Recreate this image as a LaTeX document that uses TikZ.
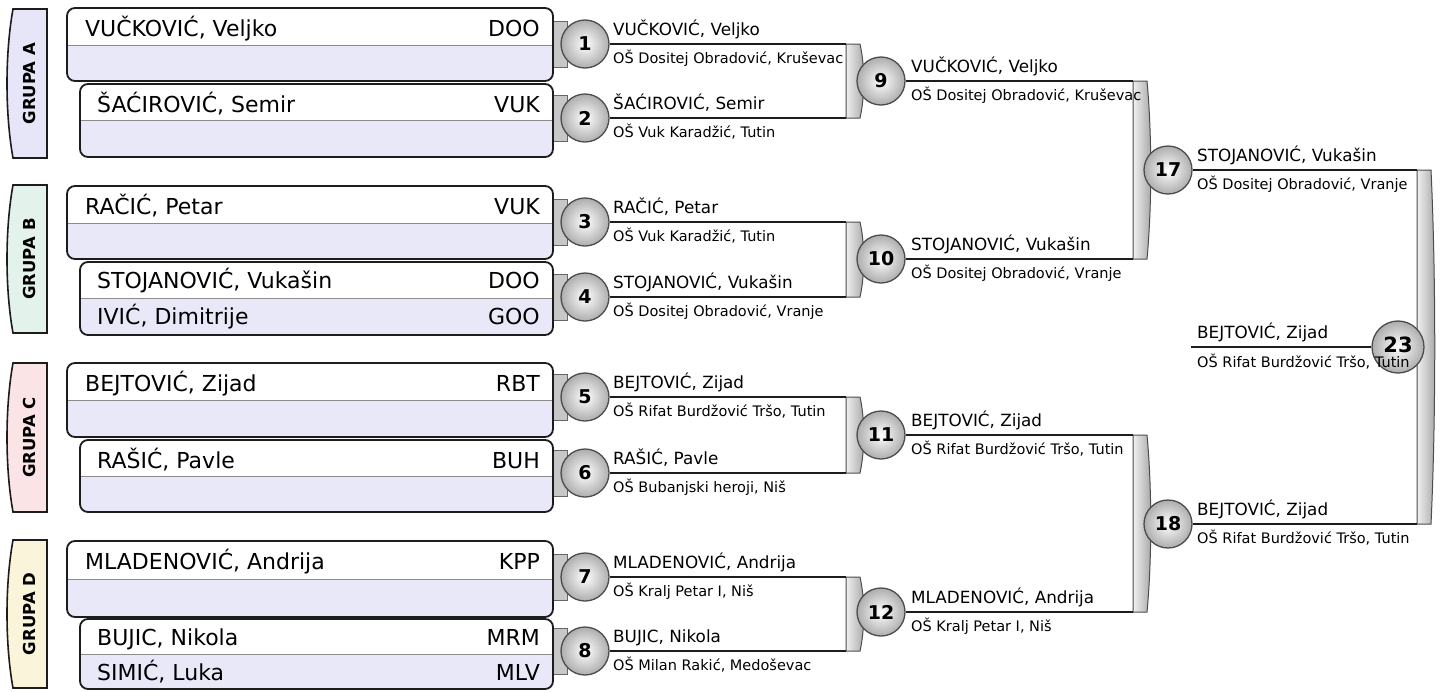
\documentclass[tikz,border=0pt]{standalone}
\usepackage{fontspec}
\setmainfont{DejaVu Sans}
\definecolor{lav}{HTML}{E9E8F8}
\definecolor{gA}{HTML}{E6E6F8}
\definecolor{gB}{HTML}{E4F2EC}
\definecolor{gC}{HTML}{FBE4E6}
\definecolor{gD}{HTML}{FAF4DA}
\definecolor{ink}{HTML}{1C1C1C}
\tikzset{
  grpline/.style={draw=ink, line width=1.6pt},
  grptext/.style={rotate=90, font=\bfseries\fontsize{16.5}{18}\selectfont, inner sep=0pt},
  boxline/.style={draw=ink, line width=1.8pt, rounded corners=8pt},
  tabst/.style={draw=black!60, line width=0.9pt, fill=black!22},
  barline/.style={draw=black!70, line width=1pt, left color=black!6, right color=black!35},
  wline/.style={draw=ink, line width=2pt},
  ball/.style={circle, minimum size=48pt, inner sep=0pt, draw=black!70, line width=1.3pt,
     inner color=white, outer color=black!32, font=\bfseries\fontsize{19}{20}\selectfont},
  nm/.style={font=\fontsize{22}{24}\selectfont, inner sep=0pt},
  wn/.style={font=\fontsize{16.8}{18}\selectfont, inner sep=0pt, anchor=base west},
  ws/.style={font=\fontsize{14.5}{16}\selectfont, inner sep=0pt, anchor=base west},
}
\newcommand{\grptab}[5]{%
  \draw[grpline, fill=#4] (13,#2) -- (47,#2) -- (47,#3) -- (13,#3)
     .. controls (5,{#3-0.3*(#3-#2)}) and (5,{#2+0.3*(#3-#2)}) .. (13,#2) -- cycle;
  \node[grptext] (#1) at (29,{(#2+#3)/2}) {#5};
}
\newcommand{\pbox}[4]{%
  \begin{scope}
    \clip[rounded corners=8pt] (#1,#2) rectangle (553,#4);
    \fill[white] (#1,#2) rectangle (553,#3);
    \fill[lav] (#1,#3) rectangle (553,#4);
  \end{scope}
  \draw[black!45, line width=0.8pt] (#1,#3) -- (553,#3);
  \draw[boxline] (#1,#2) rectangle (553,#4);
}
\newcommand{\rbar}[3]{%
  \draw[barline] (#1,#2) -- ({#1+14},#2)
    .. controls ({#1+19},{#2+0.3*(#3-#2)}) and ({#1+19},{#2+0.7*(#3-#2)}) .. ({#1+14},#3)
    -- (#1,#3) -- cycle;
}
\newcommand{\stab}[1]{\draw[tabst] (548,{#1-23}) rectangle (567,{#1+23});}
\begin{document}
\begin{tikzpicture}[x=1pt,y=-1pt]
\useasboundingbox[fill=white] (0,0) rectangle (1440,691);

% group tabs
\grptab{gA}{9}{158}{gA}{GRUPA A}
\grptab{gB}{185}{333}{gB}{GRUPA B}
\grptab{gC}{363}{512}{gC}{GRUPA C}
\grptab{gD}{540}{688}{gD}{GRUPA D}

% small tabs
\stab{44}\stab{118}\stab{222}\stab{297}\stab{397}\stab{473}\stab{577}\stab{651}

% player boxes
\pbox{67}{8}{45}{81}
\pbox{80}{84}{120}{157}
\pbox{67}{186}{223}{259}
\pbox{80}{262}{298}{335}
\pbox{67}{363}{400}{437}
\pbox{80}{440}{476}{512}
\pbox{67}{541}{579}{617}
\pbox{80}{619}{654}{689}

\node[nm, anchor=base west] (p1) at (85,36) {VUČKOVIĆ, Veljko};
\node[nm, anchor=base east] (k1) at (540,36) {DOO};
\node[nm, anchor=base west] (p2) at (97,112) {ŠAĆIROVIĆ, Semir};
\node[nm, anchor=base east] (k2) at (540,112) {VUK};
\node[nm, anchor=base west] (p3) at (85,214) {RAČIĆ, Petar};
\node[nm, anchor=base east] (k3) at (540,214) {VUK};
\node[nm, anchor=base west] (p4) at (97,288) {STOJANOVIĆ, Vukašin};
\node[nm, anchor=base east] (k4) at (540,288) {DOO};
\node[nm, anchor=base west] (p4b) at (97,324) {IVIĆ, Dimitrije};
\node[nm, anchor=base east] (k4b) at (540,324) {GOO};
\node[nm, anchor=base west] (p5) at (85,391) {BEJTOVIĆ, Zijad};
\node[nm, anchor=base east] (k5) at (540,391) {RBT};
\node[nm, anchor=base west] (p6) at (97,468) {RAŠIĆ, Pavle};
\node[nm, anchor=base east] (k6) at (540,468) {BUH};
\node[nm, anchor=base west] (p7) at (85,569) {MLADENOVIĆ, Andrija};
\node[nm, anchor=base east] (k7) at (540,569) {KPP};
\node[nm, anchor=base west] (p8) at (97,645) {BUJIC, Nikola};
\node[nm, anchor=base east] (k8) at (540,645) {MRM};
\node[nm, anchor=base west] (p8b) at (97,680) {SIMIĆ, Luka};
\node[nm, anchor=base east] (k8b) at (540,680) {MLV};

% bars
\rbar{846}{44}{118}
\rbar{846}{222}{297}
\rbar{846}{397}{473}
\rbar{846}{577}{651}
\rbar{1133}{81}{259}
\rbar{1133}{435}{612}
\rbar{1417}{170}{524}

% circles
\node[ball] (c1) at (585,44) {1};
\node[ball] (c2) at (585,118) {2};
\node[ball] (c3) at (585,222) {3};
\node[ball] (c4) at (585,297) {4};
\node[ball] (c5) at (585,397) {5};
\node[ball] (c6) at (585,473) {6};
\node[ball] (c7) at (585,577) {7};
\node[ball] (c8) at (585,651) {8};
\node[ball] (c9) at (881,81) {9};
\node[ball] (c10) at (881,259) {10};
\node[ball] (c11) at (881,435) {11};
\node[ball] (c12) at (881,612) {12};
\node[ball] (c17) at (1168,170) {17};
\node[ball] (c18) at (1168,524) {18};

% junction coordinates
\coordinate (j1) at (846,44);
\coordinate (j2) at (846,118);
\coordinate (j3) at (846,222);
\coordinate (j4) at (846,297);
\coordinate (j5) at (846,397);
\coordinate (j6) at (846,473);
\coordinate (j7) at (846,577);
\coordinate (j8) at (846,651);
\coordinate (j9) at (1133,81);
\coordinate (j10) at (1133,259);
\coordinate (j11) at (1133,435);
\coordinate (j12) at (1133,612);
\coordinate (j17) at (1417,170);
\coordinate (j18) at (1417,524);
\coordinate (f23) at (1191,347);

\foreach \i in {1,...,12,17,18}{\draw[wline] (c\i) -- (j\i);}

\node[ball, minimum size=52pt, font=\bfseries\fontsize{21}{21}\selectfont] (c23) at (1398,347) {\raisebox{4pt}{23}};
\draw[wline] (f23) -- (c23);

% winner texts
\node[wn] (w1) at (613,35) {VUČKOVIĆ, Veljko};
\node[ws] (s1) at (613,63) {OŠ Dositej Obradović, Kruševac};
\node[wn] (w2) at (613,109) {ŠAĆIROVIĆ, Semir};
\node[ws] (s2) at (613,137) {OŠ Vuk Karadžić, Tutin};
\node[wn] (w3) at (613,213) {RAČIĆ, Petar};
\node[ws] (s3) at (613,241) {OŠ Vuk Karadžić, Tutin};
\node[wn] (w4) at (613,288) {STOJANOVIĆ, Vukašin};
\node[ws] (s4) at (613,316) {OŠ Dositej Obradović, Vranje};
\node[wn] (w5) at (613,388) {BEJTOVIĆ, Zijad};
\node[ws] (s5) at (613,416) {OŠ Rifat Burdžović Tršo, Tutin};
\node[wn] (w6) at (613,464) {RAŠIĆ, Pavle};
\node[ws] (s6) at (613,492) {OŠ Bubanjski heroji, Niš};
\node[wn] (w7) at (613,568) {MLADENOVIĆ, Andrija};
\node[ws] (s7) at (613,596) {OŠ Kralj Petar I, Niš};
\node[wn] (w8) at (613,642) {BUJIC, Nikola};
\node[ws] (s8) at (613,670) {OŠ Milan Rakić, Medoševac};
\node[wn] (w9) at (911,72) {VUČKOVIĆ, Veljko};
\node[ws] (s9) at (911,100) {OŠ Dositej Obradović, Kruševac};
\node[wn] (w10) at (911,250) {STOJANOVIĆ, Vukašin};
\node[ws] (s10) at (911,278) {OŠ Dositej Obradović, Vranje};
\node[wn] (w11) at (911,426) {BEJTOVIĆ, Zijad};
\node[ws] (s11) at (911,454) {OŠ Rifat Burdžović Tršo, Tutin};
\node[wn] (w12) at (911,603) {MLADENOVIĆ, Andrija};
\node[ws] (s12) at (911,631) {OŠ Kralj Petar I, Niš};
\node[wn] (w17) at (1197,161) {STOJANOVIĆ, Vukašin};
\node[ws] (s17) at (1197,189) {OŠ Dositej Obradović, Vranje};
\node[wn] (w18) at (1197,515) {BEJTOVIĆ, Zijad};
\node[ws] (s18) at (1197,543) {OŠ Rifat Burdžović Tršo, Tutin};
\node[wn] (w23) at (1197,338) {BEJTOVIĆ, Zijad};
\node[ws] (s23) at (1197,367) {OŠ Rifat Burdžović Tršo, Tutin};
\end{tikzpicture}
\end{document}
